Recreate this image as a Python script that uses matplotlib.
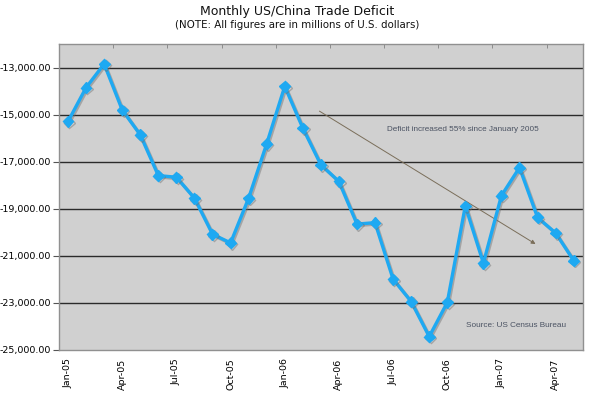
import matplotlib
matplotlib.use("Agg")
import matplotlib.pyplot as plt
import matplotlib.patheffects as pe
from matplotlib.ticker import FixedLocator, FuncFormatter

months = ["Jan-05", "Feb-05", "Mar-05", "Apr-05", "May-05", "Jun-05", "Jul-05", "Aug-05",
          "Sep-05", "Oct-05", "Nov-05", "Dec-05", "Jan-06", "Feb-06", "Mar-06", "Apr-06",
          "May-06", "Jun-06", "Jul-06", "Aug-06", "Sep-06", "Oct-06", "Nov-06", "Dec-06",
          "Jan-07", "Feb-07", "Mar-07", "Apr-07", "May-07"]
deficit = [-15290, -13850, -12850, -14800, -15860, -17590, -17660, -18550,
           -20080, -20450, -18550, -16240, -13800, -15570, -17130, -17840,
           -19650, -19590, -21990, -22940, -24430, -22980, -18880, -21310,
           -18440, -17250, -19370, -20030, -21200]
yticks = [-25000, -23000, -21000, -19000, -17000, -15000, -13000]
label_months = ["Jan-05", "Apr-05", "Jul-05", "Oct-05", "Jan-06", "Apr-06", "Jul-06",
                "Oct-06", "Jan-07", "Apr-07"]

fig = plt.figure(figsize=(5.95, 3.95), dpi=100)
ax = fig.add_axes([59/595, 1-350/395, (582.7-59)/595, (350-44)/395])
ax.set_facecolor("#d0d0d0")

x = list(range(len(months)))
ax.plot(x, deficit, color="#1ea9f2", lw=2.4, marker="D", ms=5.5,
        mec="#1ea9f2", zorder=3,
        path_effects=[pe.SimpleLineShadow(offset=(1, -1), shadow_color="#707070", alpha=0.45),
                      pe.Normal()])

ax.set_xlim(-0.5, len(months) - 0.5)
ax.set_ylim(-25000, -12000)
ax.set_yticks(yticks)
ax.yaxis.set_major_formatter(FuncFormatter(lambda v, p: f"{v:,.2f}"))
for v in yticks[1:]:
    ax.axhline(v, color="#2a2a2a", lw=1.0, zorder=1)

ax.set_xticks([months.index(m) for m in label_months])
ax.set_xticklabels(label_months, rotation=90)
ax.xaxis.set_minor_locator(FixedLocator([i + 0.5 for i in range(2, len(months) - 1, 3)]))
ax.tick_params(axis="x", which="major", length=0, pad=6, labelsize=6.8)
ax.tick_params(axis="x", which="minor", top=True, bottom=False, direction="in", length=3,
               color="#808080")
ax.tick_params(axis="y", which="major", length=4, direction="out", color="#555555",
               labelsize=6.8, pad=2)

for s in ax.spines.values():
    s.set_color("#909090")
    s.set_linewidth(1.0)

ax.annotate("", xy=(26.02, -20560), xytext=(13.79, -14790),
            arrowprops=dict(arrowstyle="-|>", color="#7a6e5a", lw=0.7,
                            mutation_scale=6), zorder=2)
ax.text(21.85, -15640, "Deficit increased 55% since January 2005", fontsize=5.9,
        color="#4a5262", ha="center", va="center", family="Liberation Sans")
ax.text(24.8, -23960, "Source: US Census Bureau", fontsize=5.9,
        color="#4a5262", ha="center", va="center", family="Liberation Sans")

fig.text(0.5, 1-12/395, "Monthly US/China Trade Deficit", ha="center", va="center",
         fontsize=9.0, color="#111111")
fig.text(0.5, 1-25.5/395, "(NOTE: All figures are in millions of U.S. dollars)", ha="center",
         va="center", fontsize=7.4, color="#111111")

fig.savefig("out.png", dpi=100)
